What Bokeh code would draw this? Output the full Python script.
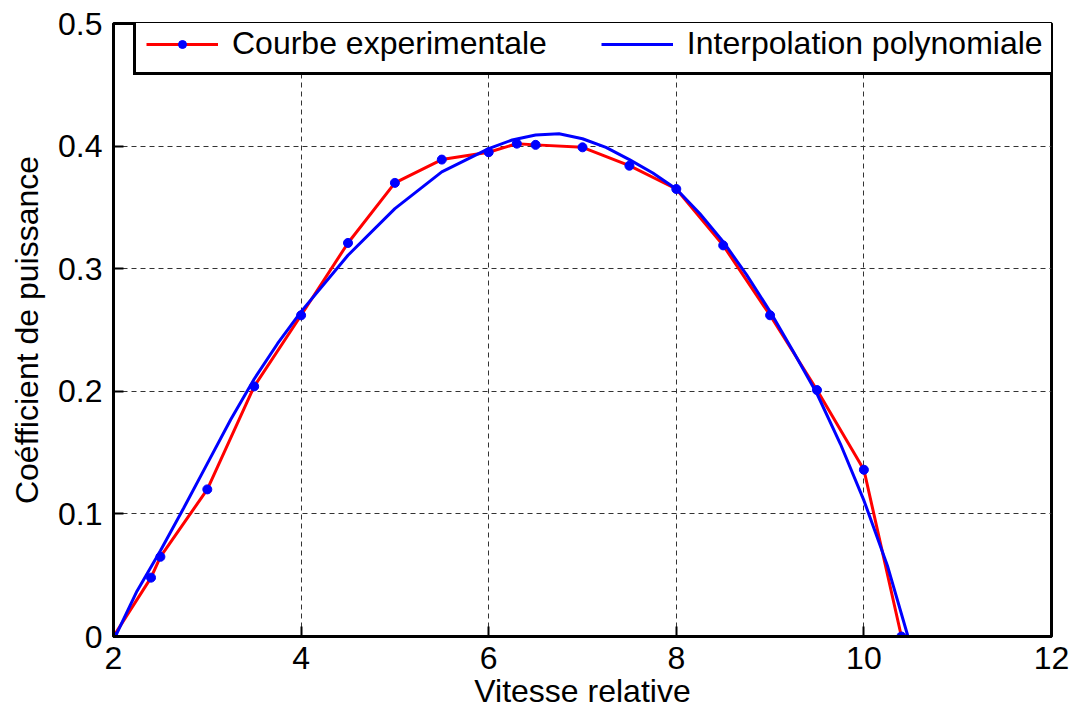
from bokeh.plotting import figure
from bokeh.models import (Range1d, FixedTicker, Legend, LegendItem)
from bokeh.embed import file_html
from bokeh.resources import INLINE

# ---- data ----
exp_x = [2.0, 2.4, 2.5, 3.0, 3.5, 4.0, 4.5, 5.0, 5.5, 6.0, 6.3, 6.5, 7.0, 7.5, 8.0, 8.5, 9.0, 9.5, 10.0, 10.4]
exp_y = [0.0, 0.048, 0.065, 0.120, 0.204, 0.262, 0.321, 0.370, 0.389, 0.395, 0.402, 0.401, 0.399, 0.384, 0.365, 0.319, 0.262, 0.201, 0.136, 0.0]

poly_x = [2.02, 2.25, 2.5, 2.75, 3.0, 3.25, 3.5, 3.75, 4.0, 4.5, 5.0, 5.5, 6.0, 6.25, 6.5, 6.75, 7.0,
          7.25, 7.5, 7.75, 8.0, 8.25, 8.5, 8.75, 9.0, 9.25, 9.5, 9.75, 10.0, 10.25, 10.47]
poly_y = [0.0, 0.037, 0.070, 0.105, 0.141, 0.177, 0.210, 0.239, 0.265, 0.311, 0.349, 0.379, 0.398, 0.405, 0.409, 0.410, 0.406,
          0.399, 0.389, 0.378, 0.365, 0.345, 0.322, 0.295, 0.265, 0.232, 0.198, 0.157, 0.111, 0.058, 0.0]

x_ticks = [2, 4, 6, 8, 10, 12]
y_ticks = [0, 0.1, 0.2, 0.3, 0.4, 0.5]
y_tick_labels = ["0", "0.1", "0.2", "0.3", "0.4", "0.5"]

legend_labels = ["Courbe experimentale", "Interpolation polynomiale"]
x_label = "Vitesse relative"
y_label = "Coéfficient de puissance"

FONT = "Liberation Sans"
FS = "32px"

p = figure(width=1072, height=711, output_backend="svg", toolbar_location=None,
           x_range=Range1d(2, 12), y_range=Range1d(0, 0.5),
           min_border_left=113, min_border_right=21, min_border_top=23, min_border_bottom=75,
           background_fill_color="white", border_fill_color="white")
p.outline_line_color = "black"
p.outline_line_width = 3
p.outline_line_alpha = 1.0

for ax in [p.xaxis[0], p.yaxis[0]]:
    ax.axis_line_width = 3
    ax.major_tick_line_width = 2
    ax.major_tick_in = 10
    ax.major_tick_out = 0
    ax.minor_tick_line_color = None
    ax.major_label_text_font = FONT
    ax.major_label_text_font_size = FS
    ax.major_label_text_color = "black"
    ax.axis_label_text_font = FONT
    ax.axis_label_text_font_size = FS
    ax.axis_label_text_font_style = "normal"
    ax.axis_label_text_color = "black"

p.xaxis[0].ticker = FixedTicker(ticks=x_ticks)
p.yaxis[0].ticker = FixedTicker(ticks=y_ticks)
p.yaxis[0].major_label_overrides = {t: l for t, l in zip(y_ticks, y_tick_labels)}
p.xaxis[0].major_label_standoff = 10
p.yaxis[0].major_label_standoff = 11

p.xaxis[0].axis_label = x_label
p.xaxis[0].axis_label_standoff = 1
p.yaxis[0].axis_label = y_label
p.yaxis[0].axis_label_standoff = 10

p.xgrid.ticker = FixedTicker(ticks=x_ticks)
p.ygrid.ticker = FixedTicker(ticks=y_ticks)
for g in [p.xgrid[0], p.ygrid[0]]:
    g.grid_line_color = "#333333"
    g.grid_line_dash = "5 4"
    g.grid_line_width = 1

r_red = p.line(exp_x, exp_y, line_color="#ff0000", line_width=3)
r_mk = p.scatter(exp_x, exp_y, size=9, fill_color="#0000ff", line_color="#0000ff")
r_blue = p.line(poly_x, poly_y, line_color="#0000ff", line_width=3)

legend = Legend(items=[LegendItem(label=legend_labels[0], renderers=[r_red, r_mk]),
                       LegendItem(label=legend_labels[1], renderers=[r_blue])],
                orientation="horizontal", location=(20, 561),
                label_text_font=FONT, label_text_font_size=FS, label_text_color="black",
                glyph_width=72, glyph_height=20, label_standoff=14, spacing=54,
                padding=10, margin=0,
                border_line_color="black", border_line_width=3, border_line_alpha=1.0,
                background_fill_color="white", background_fill_alpha=1.0)
p.add_layout(legend, "center")

open("out.html", "w").write(file_html(p, INLINE))
